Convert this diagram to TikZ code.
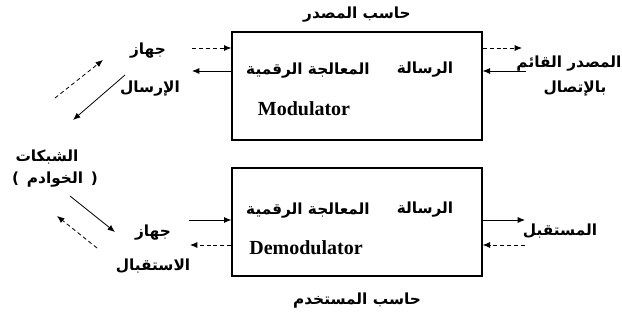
\documentclass[tikz,border=0pt]{standalone}
\usepackage{fontspec}
\usetikzlibrary{arrows.meta,positioning}
\TeXXeTstate=1
\newfontfamily\arabicfont[Script=Arabic]{DejaVu Sans}
\newfontfamily\latinfont{Liberation Serif}
\newcommand{\rtl}[1]{\beginR #1\endR}

\begin{document}
\begin{tikzpicture}[x=0.75pt,y=-0.75pt,
	lbl/.style={font=\arabicfont\bfseries\fontsize{11.5}{13}\selectfont, inner sep=0pt},
	eng/.style={font=\latinfont\bfseries\fontsize{15}{17}\selectfont, inner sep=0pt},
	cbox/.style={draw, line width=1pt, minimum width=187.5pt, minimum height=81pt, inner sep=0pt},
	dsh/.style={dash pattern=on 3pt off 2.2pt}]
	\useasboundingbox (0,0) rectangle (622,327);
	% the two computers
	\node[cbox] (src) at (357,86) {};
	\node[cbox] (dst) at (357,222) {};
	\node[lbl] (ttl1) at (357,15) {\rtl{حاسب المصدر}};
	\node[lbl] (ttl2) at (357,301) {\rtl{حاسب المستخدم}};
	\node[lbl] (msg1) at (425,70) {\rtl{الرسالة}};
	\node[lbl] (proc1) at (308,71) {\rtl{المعالجة الرقمية}};
	\node[eng] (mod) at (304,109) {Modulator};
	\node[lbl] (msg2) at (425,210) {\rtl{الرسالة}};
	\node[lbl] (proc2) at (308,211) {\rtl{المعالجة الرقمية}};
	\node[eng] (demod) at (306,248) {Demodulator};
	% left side
	\node[lbl] (snd1) at (148,51) {\rtl{جهاز}};
	\node[lbl] (snd2) at (150,89) {\rtl{الإرسال}};
	\node[lbl] (net1) at (47,157) {\rtl{الشبكات}};
	\node[lbl] (net2) at (55,180) {)\, \rtl{الخوادم} \,(};
	\node[lbl] (rcv1) at (153,233) {\rtl{جهاز}};
	\node[lbl] (rcv2) at (153,266) {\rtl{الاستقبال}};
	% right side
	\node[lbl] (orig1) at (569,64) {\rtl{المصدر القائم}};
	\node[lbl] (orig2) at (575,89) {\rtl{بالإتصال}};
	\node[lbl] (user) at (560,231) {\rtl{المستقبل}};
	% arrow ends
	\coordinate (sa) at (192,48);
	\coordinate (sb) at (192,71);
	\coordinate (ta) at (189,220);
	\coordinate (tb) at (190,245);
	\coordinate (ra) at (522,48);
	\coordinate (rb) at (526,71);
	\coordinate (rc) at (525,220);
	\coordinate (rd) at (525,245);
	\coordinate (n1) at (55,98);
	\coordinate (n2) at (103,60);
	\coordinate (n3) at (125,75);
	\coordinate (n4) at (73,120);
	\coordinate (m1) at (70,196);
	\coordinate (m2) at (115,232);
	\coordinate (m3) at (97,248);
	\coordinate (m4) at (57,216);
	\path[-{Latex[length=5.5pt,width=4.5pt]},semithick]
	(sa) edge[dsh] (sa -| src.west)
	(sb -| src.west) edge (sb)
	(src.east |- ra) edge[dsh] (ra)
	(rb) edge (rb -| src.east)
	(ta) edge (ta -| dst.west)
	(tb -| dst.west) edge[dsh] (tb)
	(dst.east |- rc) edge (rc)
	(rd) edge[dsh] (rd -| dst.east)
	(n1) edge[dsh] (n2)
	(n3) edge (n4)
	(m1) edge (m2)
	(m3) edge[dsh] (m4);
\end{tikzpicture}
\end{document}
